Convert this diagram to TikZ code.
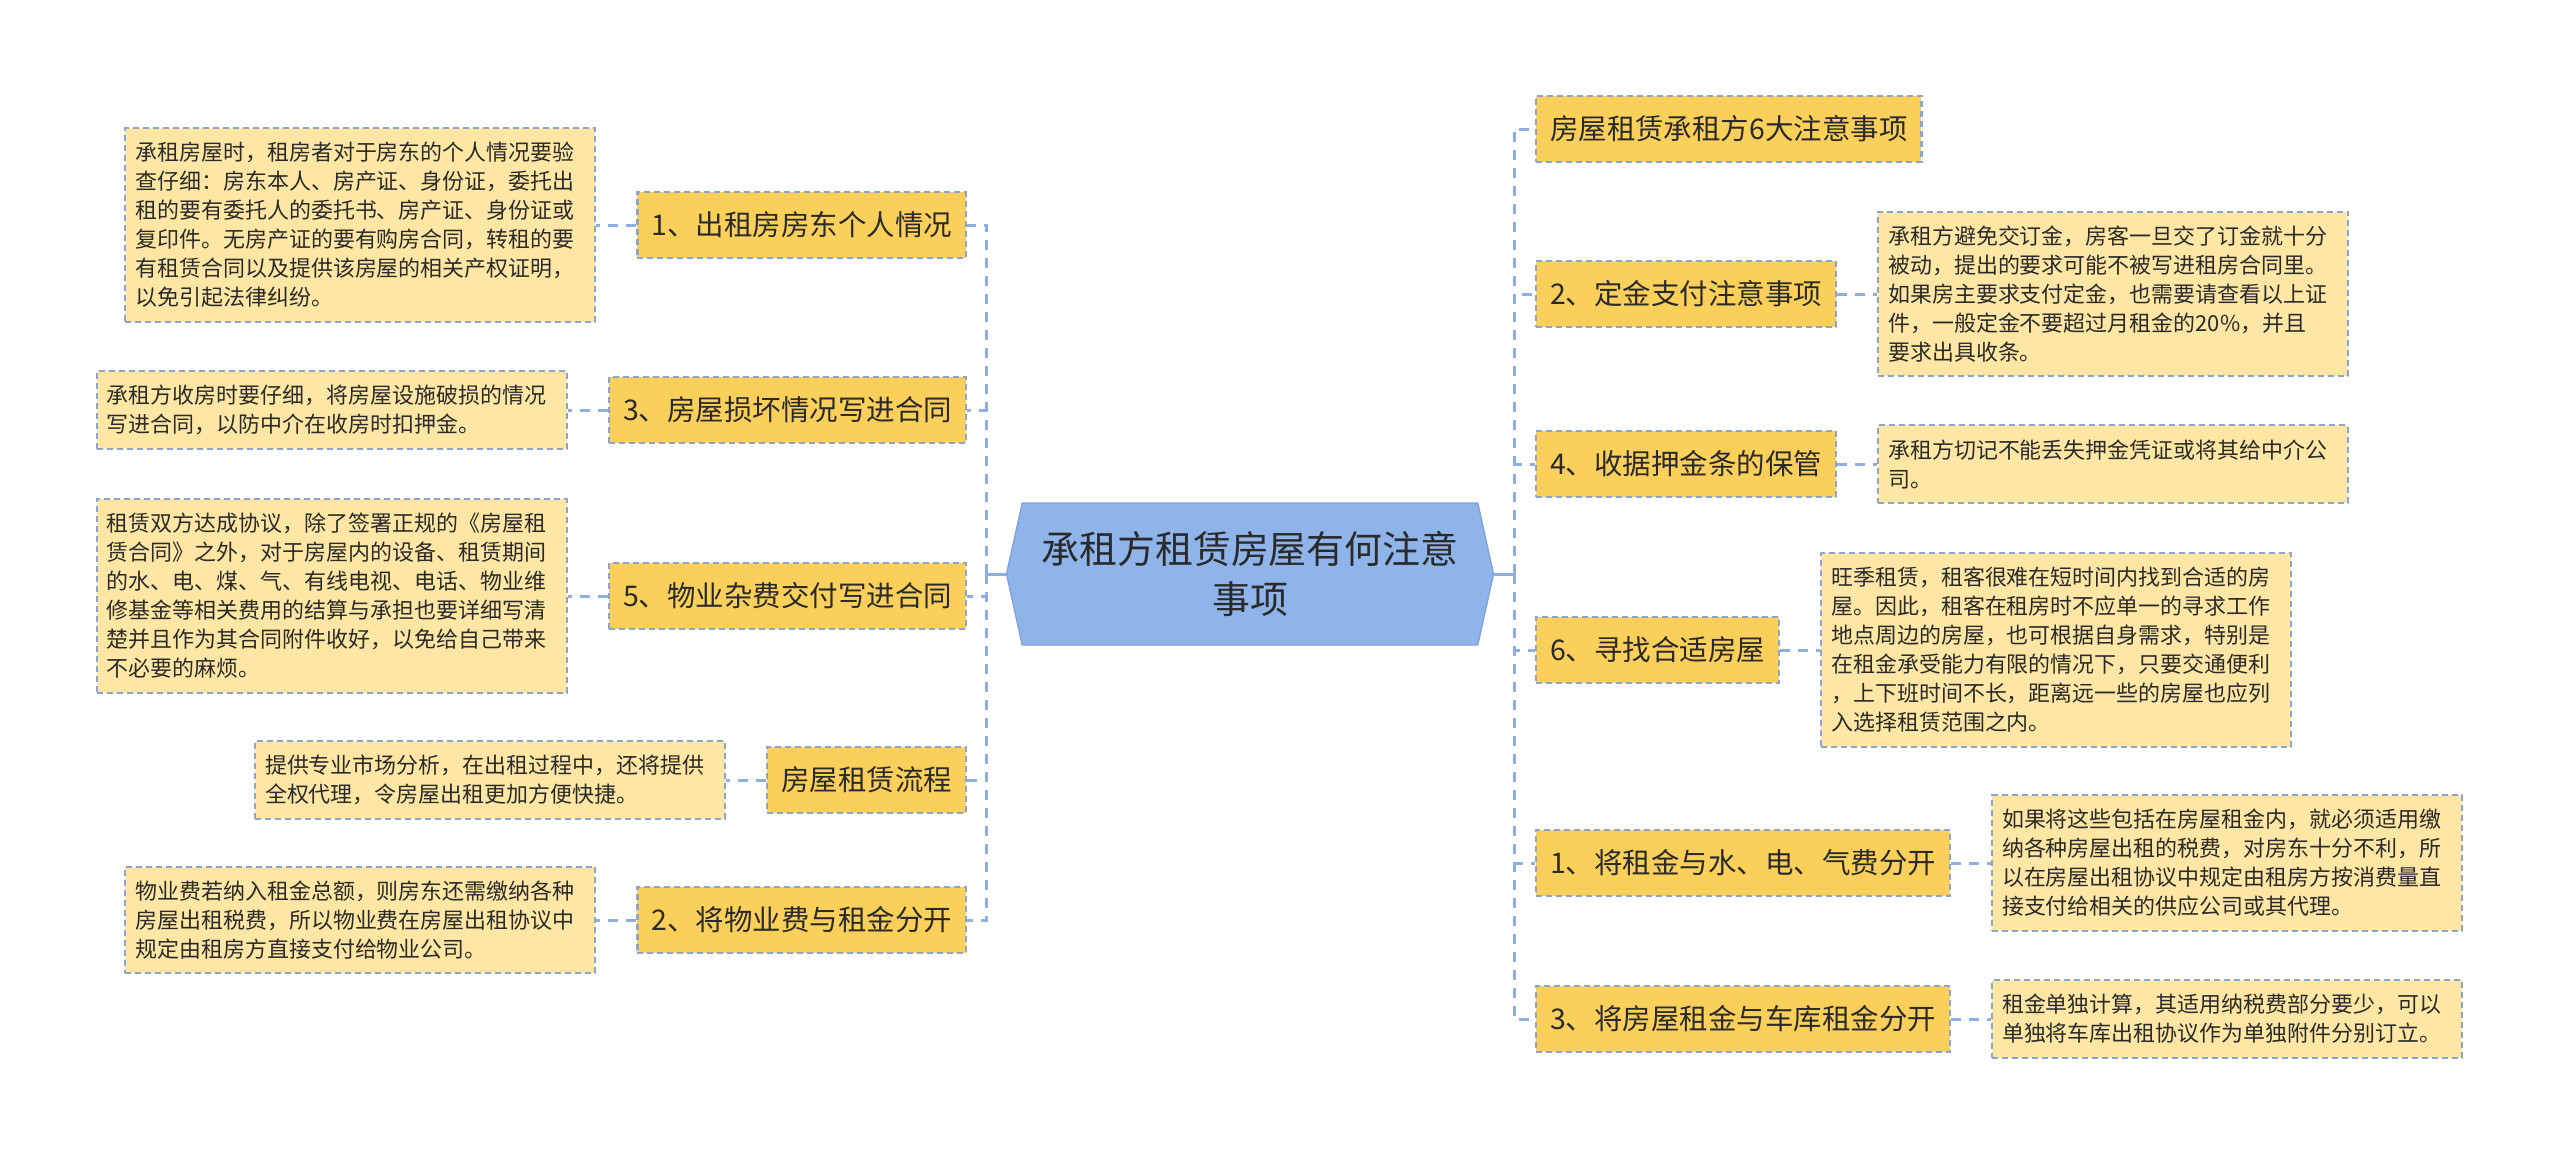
\documentclass[tikz,border=0pt]{standalone}
\usepackage{fontspec}
\usepackage{tikz}
\usetikzlibrary{positioning,shapes.symbols}
\newfontfamily\cjk{Noto Sans CJK SC}
\definecolor{rootBlue}{HTML}{8FB4EA}
\definecolor{rootEdge}{HTML}{7FA3DA}
\definecolor{topicYellow}{HTML}{FAD05A}
\definecolor{noteYellow}{HTML}{FEE7A4}
\definecolor{edgeBlue}{HTML}{8CA5CC}
\definecolor{lineBlue}{HTML}{8DAFE2}
\definecolor{inkGrey}{HTML}{2A2A2A}
\newcommand\TopicFont{\cjk\fontsize{8.1pt}{9.7pt}\selectfont}
\newcommand\NoteFont{\cjk\fontsize{6.25pt}{8.25pt}\selectfont}
\newcommand\RootFont{\cjk\fontsize{10.8pt}{14.2pt}\selectfont}
\tikzset{
  root/.style={
    shape = signal,
    signal to = east and west,
    signal pointer angle = 155,
    draw = rootEdge,
    fill = rootBlue,
    minimum width = 48.7mm,
    minimum height = 14.2mm,
    inner sep = 0pt,
    align = center,
    text = inkGrey,
    font = \RootFont
  },
  topic/.style={
    shape = rectangle,
    draw = edgeBlue,
    dash pattern = on 0.6mm off 0.4mm,
    line width = 0.6pt,
    fill = topicYellow,
    minimum height = 6.6mm,
    inner xsep = 1.4mm,
    text = inkGrey,
    font = \TopicFont
  },
  note/.style={
    shape = rectangle,
    draw = edgeBlue,
    dash pattern = on 0.6mm off 0.4mm,
    line width = 0.6pt,
    fill = noteYellow,
    text width = 45mm,
    align = left,
    inner xsep = 1mm,
    inner ysep = 1.4mm,
    text = inkGrey,
    font = \NoteFont
  },
  stem/.style={
    draw = lineBlue,
    line width = 0.85pt
  },
  link/.style={
    draw = lineBlue,
    line width = 0.85pt,
    dash pattern = on 1mm off 0.8mm
  }
}

\begin{document}
\begin{tikzpicture}[x=0.1mm,y=-0.1mm]
    \useasboundingbox (0,0) rectangle (2560,1155);

    \node[root] (root) at (1250,574) {承租方租赁房屋有何注意\\事项};

    % left side
    \node[topic, anchor=east] (L1) at (967,225) {1、出租房房东个人情况};
    \node[topic, anchor=east] (L3) at (967,410) {3、房屋损坏情况写进合同};
    \node[topic, anchor=east] (L5) at (967,596) {5、物业杂费交付写进合同};
    \node[topic, anchor=east] (L7) at (967,780) {房屋租赁流程};
    \node[topic, anchor=east] (L2) at (967,920) {2、将物业费与租金分开};

    \node[note, left=4mm of L1] (N1) {承租房屋时，租房者对于房东的个人情况要验\\查仔细：房东本人、房产证、身份证，委托出\\租的要有委托人的委托书、房产证、身份证或\\复印件。无房产证的要有购房合同，转租的要\\有租赁合同以及提供该房屋的相关产权证明，\\以免引起法律纠纷。};
    \node[note, left=4mm of L3] (N3) {承租方收房时要仔细，将房屋设施破损的情况\\写进合同，以防中介在收房时扣押金。};
    \node[note, left=4mm of L5] (N5) {租赁双方达成协议，除了签署正规的《房屋租\\赁合同》之外，对于房屋内的设备、租赁期间\\的水、电、煤、气、有线电视、电话、物业维\\修基金等相关费用的结算与承担也要详细写清\\楚并且作为其合同附件收好，以免给自己带来\\不必要的麻烦。};
    \node[note, left=4mm of L7] (N7) {提供专业市场分析，在出租过程中，还将提供\\全权代理，令房屋出租更加方便快捷。};
    \node[note, left=4mm of L2] (N2) {物业费若纳入租金总额，则房东还需缴纳各种\\房屋出租税费，所以物业费在房屋出租协议中\\规定由租房方直接支付给物业公司。};

    % right side
    \node[topic, anchor=west] (R0) at (1535,129) {房屋租赁承租方6大注意事项};
    \node[topic, anchor=west] (R2) at (1535,294) {2、定金支付注意事项};
    \node[topic, anchor=west] (R4) at (1535,464) {4、收据押金条的保管};
    \node[topic, anchor=west] (R6) at (1535,650) {6、寻找合适房屋};
    \node[topic, anchor=west] (R1) at (1535,863) {1、将租金与水、电、气费分开};
    \node[topic, anchor=west] (R3) at (1535,1019) {3、将房屋租金与车库租金分开};

    \node[note, right=4mm of R2] (M2) {承租方避免交订金，房客一旦交了订金就十分\\被动，提出的要求可能不被写进租房合同里。\\如果房主要求支付定金，也需要请查看以上证\\件，一般定金不要超过月租金的20\%，并且\\要求出具收条。};
    \node[note, right=4mm of R4] (M4) {承租方切记不能丢失押金凭证或将其给中介公\\司。};
    \node[note, right=4mm of R6] (M6) {旺季租赁，租客很难在短时间内找到合适的房\\屋。因此，租客在租房时不应单一的寻求工作\\地点周边的房屋，也可根据自身需求，特别是\\在租金承受能力有限的情况下，只要交通便利\\，上下班时间不长，距离远一些的房屋也应列\\入选择租赁范围之内。};
    \node[note, right=4mm of R1] (M1) {如果将这些包括在房屋租金内，就必须适用缴\\纳各种房屋出租的税费，对房东十分不利，所\\以在房屋出租协议中规定由租房方按消费量直\\接支付给相关的供应公司或其代理。};
    \node[note, right=4mm of R3] (M3) {租金单独计算，其适用纳税费部分要少，可以\\单独将车库出租协议作为单独附件分别订立。};

    % connectors
    \draw[stem] (root.west) -- ++(-19,0) coordinate (tl);
    \draw[stem] (root.east) -- ++(20,0) coordinate (tr);
    \foreach \n in {L1,L3,L5,L7,L2}
        \draw[link] (tl) |- (\n.east);
    \foreach \n in {R0,R2,R4,R6,R1,R3}
        \draw[link] (tr) |- (\n.west);
    \foreach \n in {1,3,5,7,2}
        \draw[link] (L\n.west) -- (N\n.east);
    \foreach \n in {2,4,6,1,3}
        \draw[link] (R\n.east) -- (M\n.west);
\end{tikzpicture}
\end{document}
